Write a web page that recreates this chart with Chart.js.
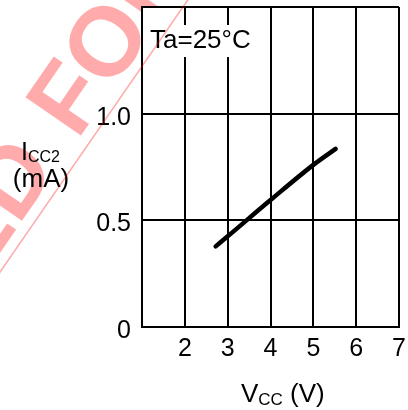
<!DOCTYPE html>
<html>
<head>
<meta charset="utf-8">
<script src="https://cdn.jsdelivr.net/npm/chart.js@4.4.1/dist/chart.umd.min.js"></script>
<style>
html,body{margin:0;padding:0;background:#fff;}
canvas{display:block;}
</style>
</head>
<body>
<canvas id="c" width="408" height="410"></canvas>
<script>
// ---- data ----
const vccValues = [2.72, 3, 4, 5, 5.52];          // V
const iccValues = [0.378, 0.425, 0.595, 0.760, 0.835]; // mA
const xTickLabels = {2:'2',3:'3',4:'4',5:'5',6:'6',7:'7'};
const yTickLabels = {0:'0',0.5:'0.5',1:'1.0'};
const conditionLabel = 'Ta=25°C';
const watermarkLeft = 'RECOMMENDED';
const watermarkRight = 'FOR NEW DESIGN';

const FONT = '"Liberation Sans", Arial, sans-serif';
const WM_COLOR = 'rgba(255,0,0,0.33)';
const WM_ANGLE = -55.4 * Math.PI / 180;

const decor = {
  id: 'decor',
  beforeDraw(chart) {
    const {ctx, chartArea: a} = chart;
    ctx.save();
    ctx.fillStyle = '#fff';
    ctx.fillRect(0, 0, chart.width, chart.height);
    // watermark letters
    ctx.translate(105, 120);
    ctx.rotate(WM_ANGLE);
    ctx.fillStyle = WM_COLOR;
    ctx.font = 'bold 98px ' + FONT;
    ctx.textBaseline = 'alphabetic';
    ctx.textAlign = 'left';
    ctx.fillText(watermarkRight, -33, -11);
    ctx.textAlign = 'right';
    ctx.fillText(watermarkLeft, -66, -11);
    ctx.restore();
    // white plot area
    ctx.save();
    ctx.fillStyle = '#fff';
    ctx.fillRect(a.left, a.top, a.right - a.left, a.bottom - a.top);
    ctx.restore();
  },
  afterDraw(chart) {
    const {ctx, chartArea: a} = chart;
    ctx.save();
    // condition label with white box
    ctx.fillStyle = '#fff';
    ctx.fillRect(a.left + 1, a.top + 18, 115, 32);
    ctx.fillStyle = '#000';
    ctx.font = '26px ' + FONT;
    ctx.textBaseline = 'alphabetic';
    ctx.textAlign = 'left';
    ctx.fillText(conditionLabel, a.left + 8, a.top + 41);

    // y axis title: I_CC2 (mA)
    ctx.font = '25px ' + FONT;
    ctx.fillText('I', 21, 160);
    let w = ctx.measureText('I').width;
    ctx.font = '16px ' + FONT;
    ctx.fillText('CC2', 21 + w, 162);
    ctx.font = '26px ' + FONT;
    ctx.textAlign = 'center';
    ctx.fillText('(mA)', 41, 187);

    // x axis title: V_CC (V)
    ctx.textAlign = 'left';
    ctx.font = '26px ' + FONT;
    let x0 = 241;
    ctx.fillText('V', x0, 402);
    x0 += ctx.measureText('V').width;
    ctx.font = '17px ' + FONT;
    ctx.fillText('CC', x0, 405);
    x0 += ctx.measureText('CC').width;
    ctx.font = '26px ' + FONT;
    ctx.fillText(' (V)', x0, 402);
    ctx.restore();

    // thin watermark line on top
    ctx.save();
    ctx.translate(105, 120);
    ctx.rotate(WM_ANGLE);
    ctx.strokeStyle = WM_COLOR;
    ctx.lineWidth = 1.6;
    ctx.beginPath();
    ctx.moveTo(-400, 0);
    ctx.lineTo(300, 0);
    ctx.stroke();
    ctx.restore();
  }
};

const points = vccValues.map((v, i) => ({x: v, y: iccValues[i]}));

new Chart(document.getElementById('c'), {
  type: 'line',
  data: {
    datasets: [{
      data: points,
      borderColor: '#000',
      borderWidth: 4.5,
      borderCapStyle: 'round',
      borderJoinStyle: 'round',
      pointRadius: 0,
      fill: false,
      cubicInterpolationMode: 'monotone'
    }]
  },
  options: {
    responsive: false,
    animation: false,
    devicePixelRatio: 1,
    layout: {padding: {top: 7, right: 9, bottom: 0, left: 0}},
    plugins: {legend: {display: false}, tooltip: {enabled: false}},
    scales: {
      x: {
        type: 'linear',
        min: 1, max: 7,
        afterFit(s) { s.height = 83; s.paddingLeft = 0; s.paddingRight = 0; },
        grid: {color: '#000', lineWidth: 2, drawTicks: false},
        border: {display: true, color: '#000', width: 2},
        ticks: {
          stepSize: 1,
          padding: 7,
          color: '#000',
          maxRotation: 0,
          font: {family: FONT, size: 25, lineHeight: 1.2},
          callback: v => xTickLabels[v] ?? ''
        }
      },
      y: {
        min: 0, max: 1.5,
        afterFit(s) { s.width = 142; s.paddingTop = 0; s.paddingBottom = 0; },
        grid: {color: '#000', lineWidth: 2, drawTicks: false},
        border: {display: true, color: '#000', width: 2},
        ticks: {
          stepSize: 0.5,
          padding: 11,
          labelOffset: 4,
          color: '#000',
          font: {family: FONT, size: 25, lineHeight: 1.2},
          callback: v => yTickLabels[v] ?? ''
        }
      }
    }
  },
  plugins: [decor]
});
</script>
</body>
</html>
